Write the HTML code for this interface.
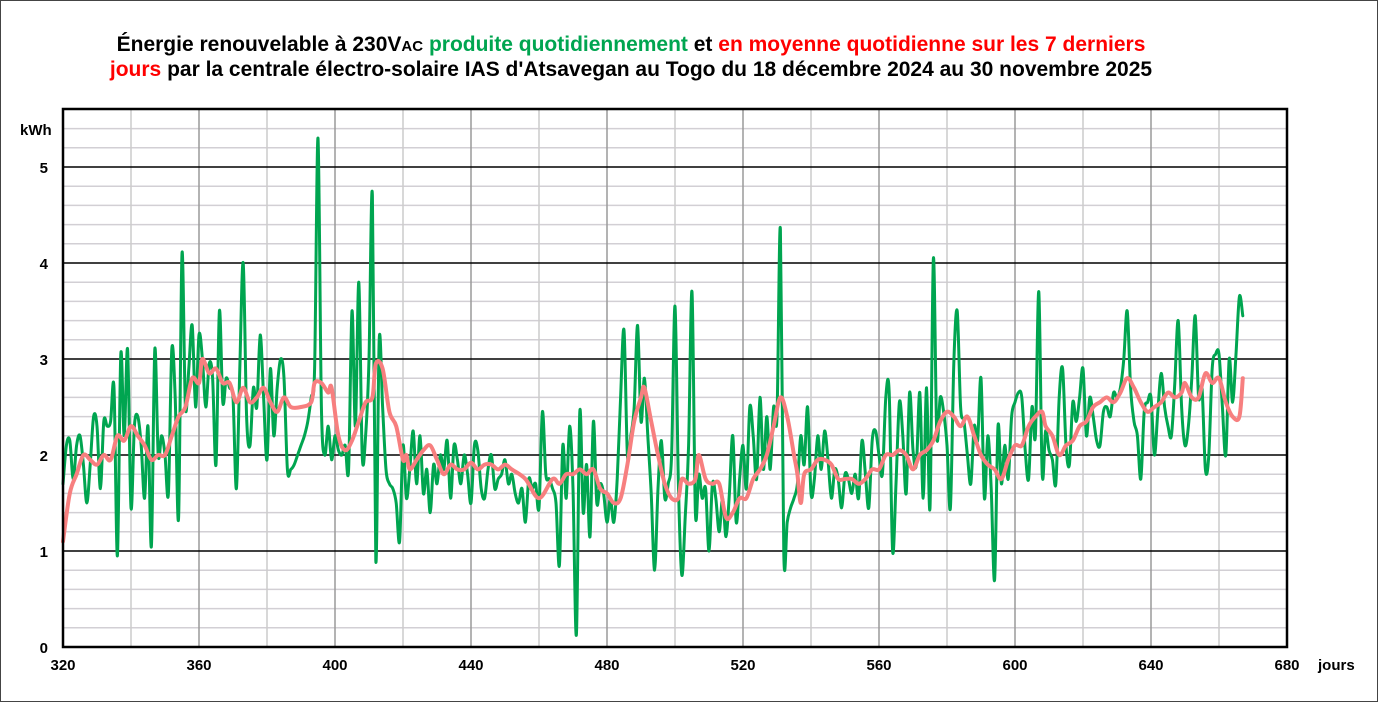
<!DOCTYPE html>
<html><head><meta charset="utf-8">
<style>
html,body{margin:0;padding:0;background:#fff;}
#c{position:relative;width:1378px;height:702px;overflow:hidden;font-family:"Liberation Sans",Arial,sans-serif;}
</style></head>
<body><div id="c">
<svg id="s" width="1378" height="702" xmlns="http://www.w3.org/2000/svg" font-family="Liberation Sans, Arial, sans-serif">
<rect x="0.5" y="0.5" width="1377" height="701" fill="#fff" stroke="#444" stroke-width="1"/>
<text x="631" y="51" text-anchor="middle" font-size="21" font-weight="bold" fill="#000">Énergie renouvelable à 230V<tspan font-size="15">AC</tspan> <tspan fill="#00a550">produite quotidiennement</tspan> et <tspan fill="#ff0000">en moyenne quotidienne sur les 7 derniers</tspan></text>
<text x="631" y="76" text-anchor="middle" font-size="21" font-weight="bold" fill="#000"><tspan fill="#ff0000">jours</tspan> par la centrale électro-solaire IAS d'Atsavegan au Togo du 18 décembre 2024 au 30 novembre 2025</text>
<g id="grid"></g>
<g id="lines"></g>
<rect x="63" y="109" width="1224" height="538" fill="none" stroke="#000" stroke-width="2.5"/>
<g font-size="15" font-weight="bold" fill="#000" id="lab">
<text x="20" y="135">kWh</text>
</g>
</svg>
</div>
<script>
var X0=63,PX=3.4,Y0=647,PY=96;
function X(d){return X0+(d-320)*PX;}
function Y(v){return Y0-v*PY;}
var g=document.getElementById('grid'),ns="http://www.w3.org/2000/svg";
function line(x1,y1,x2,y2,c,w){var l=document.createElementNS(ns,'line');l.setAttribute('x1',x1);l.setAttribute('y1',y1);l.setAttribute('x2',x2);l.setAttribute('y2',y2);l.setAttribute('stroke',c);l.setAttribute('stroke-width',w);g.appendChild(l);}
for(var i=1;i<28;i++){var v=i*0.2;if(i%5==0)continue;line(63,Y(v),1287,Y(v),'#d2cfd4',1.5);}
for(var d=340;d<680;d+=20){line(X(d),109,X(d),647,(d%40==0)?'#9a9a9a':'#cccccc',1.5);}
for(var v=1;v<=5;v++){line(63,Y(v),1287,Y(v),'#000',1.5);}
var lab=document.getElementById('lab');
function txt(x,y,t,a){var e=document.createElementNS(ns,'text');e.setAttribute('x',x);e.setAttribute('y',y);e.setAttribute('text-anchor',a);e.textContent=t;lab.appendChild(e);}
for(var v=0;v<=5;v++)txt(48,Y(v)+6,''+v,'end');
for(var d=320;d<=680;d+=40)txt(X(d),670,''+d,'middle');
txt(1318,670,'jours','start');
var G=[1.7,2.1,2.15,1.75,2.1,2.2,1.9,1.5,1.9,2.4,
2.3,1.65,2.35,2.3,2.35,2.7,0.95,3.05,2.2,3.1,
1.45,2.3,2.4,2.1,1.55,2.3,1.05,3.1,2.0,2.2,
2.0,1.6,3.1,2.6,1.35,4.1,2.5,2.9,3.35,2.5,
3.25,3.0,2.5,2.95,2.8,1.9,3.5,2.55,2.8,2.7,
2.6,1.65,2.9,4.0,2.4,2.1,2.7,2.5,3.25,2.6,
1.95,2.9,2.2,2.7,3.0,2.8,1.85,1.85,1.9,2.0,
2.1,2.2,2.35,2.6,2.9,5.3,2.5,2.0,2.3,1.95,
2.2,2.05,2.0,2.1,1.85,3.5,2.3,3.8,2.0,2.2,
3.0,4.7,0.9,3.2,2.5,1.85,1.7,1.65,1.5,1.1,
2.1,1.55,1.85,2.25,1.7,2.2,1.6,1.85,1.4,1.9,
1.7,2.0,1.85,2.15,1.55,2.1,1.95,1.7,2.0,1.8,
1.5,2.1,2.05,1.65,1.55,1.85,2.0,1.65,1.75,1.8,
1.95,1.7,1.8,1.6,1.5,1.65,1.3,1.75,1.65,1.7,
1.45,2.45,1.8,1.75,1.65,1.5,0.85,2.1,1.55,2.3,
1.65,0.13,2.45,1.4,1.9,1.15,2.35,1.5,1.7,1.6,
1.3,1.55,1.3,1.75,2.6,3.3,2.0,2.2,2.5,3.35,
2.35,2.8,2.2,1.6,0.8,1.65,2.15,1.55,1.7,2.0,
3.55,1.7,0.75,1.35,2.1,3.7,1.4,1.8,1.55,1.65,
1.0,1.7,1.55,1.2,1.55,1.15,1.6,2.2,1.3,1.75,
2.1,1.65,2.5,2.2,1.75,2.6,1.85,2.4,1.85,2.5,
2.4,4.35,0.97,1.3,1.45,1.55,1.7,2.2,1.9,2.5,
1.6,1.75,2.2,1.85,2.25,1.95,1.55,1.85,1.75,1.45,
1.8,1.75,1.6,1.8,1.55,2.15,1.8,1.45,2.15,2.25,
2.0,1.8,2.6,2.65,1.0,1.7,2.55,2.2,1.6,2.65,
2.05,1.9,2.65,1.55,2.7,1.45,4.05,2.2,2.6,2.45,
2.1,1.45,2.95,3.5,2.5,2.35,2.0,1.7,2.3,2.15,
2.8,1.55,2.2,1.65,0.7,2.3,1.7,2.1,1.75,2.4,
2.55,2.65,2.6,2.05,1.75,2.5,2.2,3.7,1.8,2.25,
2.05,1.95,1.7,2.6,2.9,2.1,1.9,2.55,2.35,2.6,
2.9,2.2,2.6,2.4,2.15,2.1,2.45,2.5,2.4,2.65,
2.6,2.7,3.0,3.5,2.7,2.35,2.2,1.75,2.45,2.55,
2.6,2.0,2.45,2.85,2.5,2.3,2.2,2.75,3.4,2.5,
2.1,2.3,2.8,3.45,2.6,2.7,1.85,2.0,2.9,3.05,
3.05,2.5,2.0,3.0,2.55,3.05,3.65,3.45];
var R=[320,1.1,322,1.6,324,1.8,326,2.0,328,1.95,330,1.9,332,2.0,334,1.95,336,2.2,338,2.15,340,2.3,342,2.2,344,2.1,346,1.95,348,2.0,350,2.0,352,2.2,354,2.4,356,2.5,358,2.8,360,2.75,361,3.0,363,2.85,365,2.9,367,2.75,369,2.75,371,2.55,373,2.7,375,2.55,377,2.6,379,2.7,381,2.55,383,2.45,385,2.6,387,2.5,390,2.5,393,2.55,394,2.75,396,2.75,398,2.65,399,2.7,401,2.2,403,2.05,405,2.15,407,2.35,409,2.55,411,2.6,412,2.95,414,2.9,416,2.45,418,2.3,420,1.95,421,2.0,422,1.85,424,1.95,426,2.05,428,2.1,430,1.95,432,1.8,434,1.9,436,1.85,438,1.85,440,1.92,442,1.85,444,1.9,446,1.9,448,1.85,450,1.9,452,1.85,456,1.75,460,1.55,464,1.75,466,1.7,468,1.8,470,1.8,472,1.85,474,1.8,476,1.85,478,1.65,480,1.6,482,1.5,484,1.55,486,1.9,488,2.35,490,2.6,491,2.7,493,2.35,495,2.0,497,1.7,499,1.55,501,1.55,502,1.75,504,1.7,506,1.75,507,2.0,509,1.75,511,1.7,513,1.7,515,1.35,517,1.4,519,1.55,521,1.55,523,1.75,525,1.85,527,2.0,529,2.3,531,2.6,533,2.4,535,2.0,536,1.8,537,1.5,538,1.8,540,1.85,542,1.95,544,1.95,546,1.9,548,1.75,550,1.75,552,1.75,554,1.7,556,1.75,558,1.85,560,1.85,562,2.0,564,2.0,566,2.05,568,2.0,570,1.85,572,2.0,574,2.05,576,2.15,578,2.35,580,2.45,582,2.4,584,2.3,586,2.4,588,2.2,590,2.0,592,1.9,594,1.85,596,1.75,598,1.95,600,2.1,602,2.1,604,2.3,606,2.4,608,2.45,609,2.3,611,2.2,613,2.0,615,2.1,617,2.15,619,2.3,621,2.35,623,2.5,625,2.55,627,2.6,629,2.55,631,2.65,633,2.8,635,2.7,637,2.55,639,2.45,641,2.5,643,2.55,645,2.65,647,2.6,649,2.65,650,2.75,652,2.6,654,2.6,656,2.85,658,2.75,660,2.8,662,2.55,664,2.4,666,2.4,667,2.8];
function smooth(pts){var d='M'+pts[0][0].toFixed(1)+','+pts[0][1].toFixed(1);
for(var i=0;i<pts.length-1;i++){var p0=pts[i-1]||pts[i],p1=pts[i],p2=pts[i+1],p3=pts[i+2]||p2;
var c1x=p1[0]+(p2[0]-p0[0])/6,c1y=p1[1]+(p2[1]-p0[1])/6,c2x=p2[0]-(p3[0]-p1[0])/6,c2y=p2[1]-(p3[1]-p1[1])/6;
d+='C'+c1x.toFixed(1)+','+c1y.toFixed(1)+' '+c2x.toFixed(1)+','+c2y.toFixed(1)+' '+p2[0].toFixed(1)+','+p2[1].toFixed(1);}return d;}
var gp=[];for(var i=0;i<G.length;i++)gp.push([X(320+i),Y(G[i])]);
var rp=[];for(var i=0;i<R.length;i+=2)rp.push([X(R[i]),Y(R[i+1])]);
var L=document.getElementById('lines');
function path(d,c,w){var p=document.createElementNS(ns,'path');p.setAttribute('d',d);p.setAttribute('fill','none');p.setAttribute('stroke',c);p.setAttribute('stroke-width',w);p.setAttribute('stroke-linejoin','round');p.setAttribute('stroke-linecap','round');L.appendChild(p);}
path(smooth(gp),'#00a550',3);
path(smooth(rp),'#f77f7f',4);
</script>
</body></html>
